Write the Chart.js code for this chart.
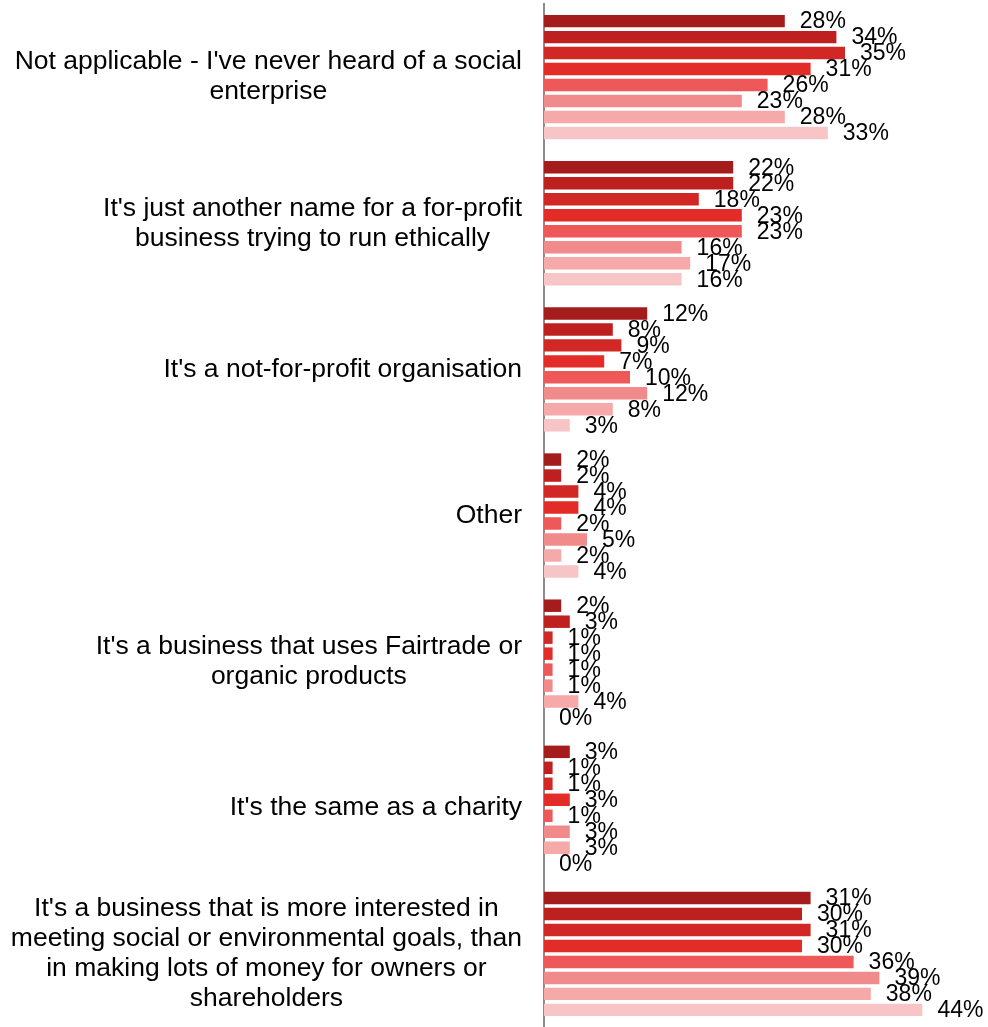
<!DOCTYPE html>
<html>
<head>
<meta charset="utf-8">
<script src="https://cdn.jsdelivr.net/npm/chart.js@4"></script>
<style>
  html, body { margin: 0; padding: 0; background: #fff; }
  #wrap { width: 988px; height: 1027px; position: relative; }
</style>
</head>
<body>
<div id="wrap"><canvas id="chart"></canvas></div>
<script>
// categorias (linhas do rótulo)
const categorias = [
  ["Not applicable - I've never heard of a social", "enterprise"],
  ["It's just another name for a for-profit", "business trying to run ethically"],
  ["It's a not-for-profit organisation"],
  ["Other"],
  ["It's a business that uses Fairtrade or", "organic products"],
  ["It's the same as a charity"],
  ["It's a business that is more interested in", "meeting social or environmental goals, than", "in making lots of money for owners or", "shareholders"]
];

// valores (%) por série
const serie1 = [28, 22, 12, 2, 2, 3, 31];
const serie2 = [34, 22, 8, 2, 3, 1, 30];
const serie3 = [35, 18, 9, 4, 1, 1, 31];
const serie4 = [31, 23, 7, 4, 1, 3, 30];
const serie5 = [26, 23, 10, 2, 1, 1, 36];
const serie6 = [23, 16, 12, 5, 1, 3, 39];
const serie7 = [28, 17, 8, 2, 4, 3, 38];
const serie8 = [33, 16, 3, 4, 0, 0, 44];

const series = [serie1, serie2, serie3, serie4, serie5, serie6, serie7, serie8];
const cores = ['#a51c1c', '#be2020', '#d12826', '#e32b27', '#ef5858', '#f18a8a', '#f5a9a9', '#f7c5c5'];

const FONTE = "'Liberation Sans', Arial, sans-serif";

// desenha os rótulos das categorias, centrados num bloco alinhado à direita
const rotulosCategorias = {
  id: 'rotulosCategorias',
  afterDraw(chart) {
    const ctx = chart.ctx;
    const yScale = chart.scales.y;
    const right = yScale.left - 22;
    ctx.save();
    ctx.font = '26.5px ' + FONTE;
    ctx.fillStyle = '#000';
    ctx.textAlign = 'center';
    ctx.textBaseline = 'middle';
    categorias.forEach((linhas, i) => {
      const y = yScale.getPixelForTick(i);
      const largura = Math.max(...linhas.map(l => ctx.measureText(l).width));
      const cx = Math.max(right - largura / 2, largura / 2 + 8);
      const lh = 30;
      linhas.forEach((linha, j) => {
        ctx.fillText(linha, cx, y + (j - (linhas.length - 1) / 2) * lh);
      });
    });
    ctx.restore();
  }
};

// desenha os valores ao lado das barras
const rotulosValores = {
  id: 'rotulosValores',
  afterDatasetsDraw(chart) {
    const ctx = chart.ctx;
    ctx.save();
    ctx.font = '23px ' + FONTE;
    ctx.fillStyle = '#000';
    ctx.textAlign = 'left';
    ctx.textBaseline = 'middle';
    chart.data.datasets.forEach((ds, d) => {
      const meta = chart.getDatasetMeta(d);
      meta.data.forEach((bar, i) => {
        ctx.fillText(ds.data[i] + '%', bar.x + 15, bar.y + 1);
      });
    });
    ctx.restore();
  }
};

new Chart(document.getElementById('chart'), {
  type: 'bar',
  data: {
    labels: categorias,
    datasets: series.map((s, k) => ({
      label: 'Series ' + (k + 1),
      data: s,
      backgroundColor: cores[k],
      categoryPercentage: 0.875,
      barPercentage: 0.78
    }))
  },
  options: {
    indexAxis: 'y',
    responsive: true,
    maintainAspectRatio: false,
    animation: false,
    layout: { padding: { left: 544, right: 14, top: 4, bottom: 0 } },
    plugins: {
      legend: { display: false },
      tooltip: { enabled: false }
    },
    scales: {
      x: {
        display: false,
        min: 0,
        max: 50
      },
      y: {
        ticks: { display: false },
        grid: { display: false, drawTicks: false },
        border: { display: true, color: '#8c8c8c', width: 2 },
        afterFit(scale) { scale.width = 0; }
      }
    }
  },
  plugins: [rotulosCategorias, rotulosValores]
});
</script>
</body>
</html>
